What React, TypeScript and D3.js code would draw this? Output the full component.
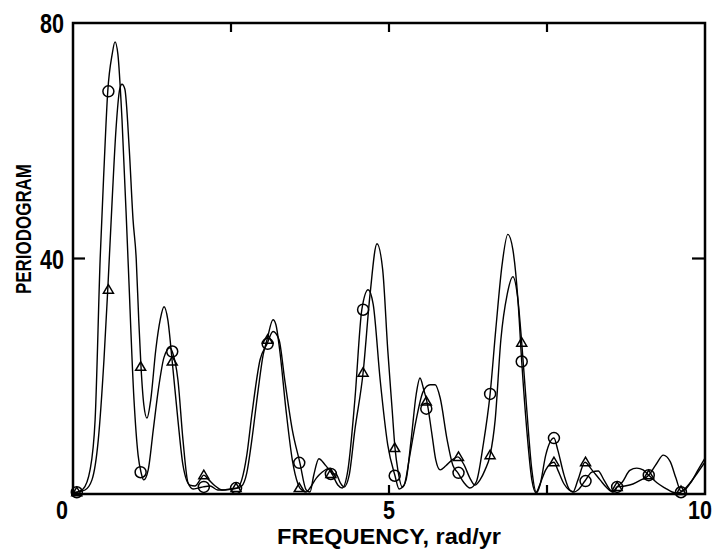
import React from "react";
import * as d3 from "d3";

// Circle-marked periodogram curve (frequency, value)
const circleCurveFreq = [0.00,0.06,0.16,0.27,0.35,0.43,0.49,0.55,0.62,0.665,0.71,0.775,0.87,0.965,1.03,1.076,1.12,1.19,1.27,1.35,1.44,1.535,1.57,1.66,1.74,1.82,1.90,1.98,2.06,2.17,2.29,2.41,2.52,2.595,2.67,2.75,2.83,2.96,3.07,3.165,3.26,3.35,3.47,3.59,3.69,3.75,3.81,3.89,3.99,4.10,4.19,4.26,4.35,4.46,4.57,4.67,4.75,4.86,4.98,5.095,5.16,5.24,5.33,5.43,5.54,5.65,5.73,5.81,5.92,6.01,6.09,6.19,6.28,6.38,6.49,6.60,6.69,6.79,6.88,6.96,7.04,7.10,7.18,7.26,7.33,7.39,7.48,7.61,7.67,7.77,7.86,7.93,7.99,8.10,8.21,8.31,8.40,8.50,8.56,8.61,8.69,8.81,8.92,9.02,9.11,9.24,9.37,9.48,9.56,9.62,9.75,9.89,10.0];
const circleCurveVal = [0.17,0.30,0.85,4.09,12.6,40.0,55.15,68.4,74.7,76.8,74.7,63.7,40.0,16.0,6.6,3.7,2.4,4.1,10.9,17.7,23.2,24.85,24.2,19.4,9.2,1.9,0.85,1.0,1.2,1.36,0.68,0.68,0.85,1.0,2.4,6.6,13.5,22.8,25.5,27.6,26.2,19.4,10.9,5.3,0.68,0.34,3.23,6.0,4.94,3.4,1.53,1.02,4.09,16.0,31.3,34.7,32.2,19.4,8.34,3.1,0.85,1.53,6.6,12.6,17.4,18.55,18.55,16.3,9.2,4.9,3.6,1.87,1.02,2.04,8.3,17.0,28.0,39.0,44.1,41.5,33.0,22.5,10.9,2.4,0.17,1.53,6.6,9.5,7.5,3.2,0.68,0.34,0.68,2.2,3.7,3.9,2.4,0.68,0.34,1.2,2.0,4.0,4.4,4.1,3.2,1.9,1.0,0.34,0.17,0.34,1.7,3.74,5.45];

// Triangle-marked periodogram curve (frequency, value)
const triCurveFreq = [0.00,0.06,0.19,0.30,0.40,0.49,0.55,0.62,0.68,0.74,0.775,0.82,0.89,0.95,1.00,1.04,1.076,1.12,1.17,1.23,1.31,1.38,1.44,1.50,1.57,1.66,1.74,1.85,1.93,2.01,2.07,2.15,2.25,2.36,2.48,2.595,2.67,2.75,2.83,2.93,3.01,3.07,3.165,3.21,3.27,3.37,3.47,3.56,3.59,3.69,3.75,3.85,3.94,4.07,4.10,4.16,4.23,4.29,4.37,4.46,4.59,4.70,4.81,4.90,4.98,5.05,5.095,5.14,5.21,5.27,5.35,5.43,5.49,5.55,5.60,5.68,5.74,5.81,5.90,6.00,6.09,6.19,6.28,6.36,6.44,6.52,6.60,6.68,6.77,6.87,6.96,7.04,7.10,7.18,7.26,7.33,7.39,7.48,7.61,7.67,7.77,7.85,7.91,7.99,8.10,8.21,8.34,8.45,8.54,8.61,8.73,8.86,8.99,9.11,9.23,9.34,9.45,9.54,9.62,9.68,9.78,9.89,10.0];
const triCurveVal = [0.17,0.3,0.68,2.4,9.2,22.8,34.7,50.0,61.9,68.8,69.6,68.8,58.6,46.6,40.0,29.6,21.6,15.2,12.9,16.0,24.5,29.6,31.8,29.6,22.5,12.6,4.9,1.5,1.36,2.4,3.2,2.4,1.36,0.68,0.85,1.0,1.36,3.6,9.2,17.7,23.7,26.2,29.6,28.8,24.5,14.3,5.8,1.7,1.0,0.34,1.02,2.7,3.7,4.4,3.4,3.4,1.9,1.2,3.2,10.9,20.6,33.9,42.5,38.1,24.5,14.3,7.8,4.1,1.19,2.4,9.2,16.9,19.7,17.7,15.7,10.1,5.8,4.1,4.8,5.8,6.3,4.9,2.7,1.5,2.4,4.1,6.6,12.6,26.2,33.9,36.9,33.0,25.7,14.3,4.1,0.34,1.7,4.1,5.4,4.1,1.7,0.68,0.34,2.4,5.4,4.1,2.4,1.02,0.34,1.2,1.36,1.7,2.4,3.2,5.1,6.6,5.5,2.7,0.5,0.68,2.04,4.09,6.1];

// Marker frequencies and values
const markerFreq = [0.06,0.56,1.07,1.57,2.07,2.58,3.08,3.58,4.08,4.59,5.09,5.59,6.10,6.60,7.10,7.61,8.11,8.61,9.11,9.62];
const circleMarkerVal = [0.3,68.4,3.7,24.2,1.2,1.0,25.5,5.3,3.4,31.3,3.1,14.5,3.6,17.0,22.5,9.5,2.2,1.2,3.2,0.3];
const triMarkerVal = [0.3,34.7,21.6,22.5,3.2,1.0,26.2,1.0,3.4,20.6,7.8,15.7,6.3,6.6,25.7,5.4,5.4,1.2,3.2,0.5];

const xTickLabels = ["0", "5", "10"];
const xTickVals = [0, 5, 10];
const yTickLabels = ["80", "40"];
const yTickVals = [80, 40];
const topTickVals = [2.5, 5, 7.5];
const bottomTickVals = [5, 7.5];

export default function App() {
  const W = 717, H = 550;
  const left = 73, right = 705, top = 23, bottom = 494;
  const x = d3.scaleLinear().domain([0, 10]).range([left, right]);
  const y = d3.scaleLinear().domain([0, 80]).range([bottom, top]);

  const line = d3
    .line<[number, number]>()
    .x((d) => x(d[0]))
    .y((d) => y(d[1]))
    .curve(d3.curveMonotoneX);

  const cData: [number, number][] = circleCurveFreq.map((f, i) => [f, circleCurveVal[i]]);
  const tData: [number, number][] = triCurveFreq.map((f, i) => [f, triCurveVal[i]]);

  const tri = (cx: number, cy: number) =>
    `M${cx},${cy - 5}L${cx - 5},${cy + 3.5}L${cx + 5},${cy + 3.5}Z`;

  const font = "'Liberation Sans', Arial, Helvetica, sans-serif";

  return (
    <svg
      width={W}
      height={H}
      style={{ position: "absolute", left: 0, top: 0, background: "#fff" }}
    >
      <rect x={0} y={0} width={W} height={H} fill="#fff" />
      <defs>
        <clipPath id="plot">
          <rect x={left} y={top - 30} width={right - left} height={bottom - top + 30} />
        </clipPath>
      </defs>
      {/* curves */}
      <g clipPath="url(#plot)" fill="none" stroke="#000" strokeWidth={1.4}>
        <path d={line(cData) || ""} />
        <path d={line(tData) || ""} />
      </g>
      {/* markers */}
      <g fill="none" stroke="#000" strokeWidth={1.5}>
        {markerFreq.map((f, i) => (
          <circle key={"c" + i} cx={x(f)} cy={y(circleMarkerVal[i])} r={5.5} />
        ))}
        {markerFreq.map((f, i) => (
          <path key={"t" + i} d={tri(x(f), y(triMarkerVal[i]))} />
        ))}
      </g>
      {/* frame */}
      <rect
        x={left}
        y={top}
        width={right - left}
        height={bottom - top}
        fill="none"
        stroke="#000"
        strokeWidth={2.5}
      />
      {/* ticks */}
      <g stroke="#000" strokeWidth={2.2}>
        {topTickVals.map((v) => (
          <line key={"tt" + v} x1={x(v)} x2={x(v)} y1={top} y2={top + 9} />
        ))}
        {bottomTickVals.map((v) => (
          <line key={"bt" + v} x1={x(v)} x2={x(v)} y1={bottom} y2={bottom - 9} />
        ))}
        <line x1={left} x2={left + 12} y1={y(40)} y2={y(40)} />
        <line x1={right} x2={right - 13} y1={y(40)} y2={y(40)} />
      </g>
      {/* y tick labels */}
      {yTickVals.map((v, i) => (
        <text
          key={"yl" + v}
          x={64}
          y={y(v) + 10}
          textAnchor="end"
          fontFamily={font}
          fontWeight="bold"
          fontSize={27}
          textLength={24}
          lengthAdjust="spacingAndGlyphs"
        >
          {yTickLabels[i]}
        </text>
      ))}
      {/* x tick labels */}
      {xTickVals.map((v, i) => {
        const cx = v === 0 ? 62 : v === 10 ? 700 : x(v);
        const len = xTickLabels[i].length * 12;
        return (
          <text
            key={"xl" + v}
            x={cx - len / 2}
            y={519}
            fontFamily={font}
            fontWeight="bold"
            fontSize={26}
            textLength={len}
            lengthAdjust="spacingAndGlyphs"
          >
            {xTickLabels[i]}
          </text>
        );
      })}
      {/* axis titles */}
      <text
        x={277}
        y={544}
        fontFamily={font}
        fontWeight="bold"
        fontSize={22}
        textLength={224}
        lengthAdjust="spacingAndGlyphs"
      >
        FREQUENCY, rad/yr
      </text>
      <text
        transform="translate(31,229) rotate(-90)"
        textAnchor="middle"
        fontFamily={font}
        fontWeight="bold"
        fontSize={22}
        textLength={130}
        lengthAdjust="spacingAndGlyphs"
      >
        PERIODOGRAM
      </text>
    </svg>
  );
}
